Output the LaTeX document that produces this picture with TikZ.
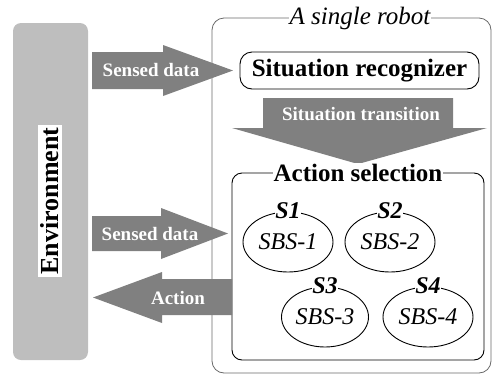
\documentclass[tikz,border=0pt]{standalone}
\usepackage{fontspec}
\setmainfont{Liberation Serif}
\usepackage{tikz}
\usetikzlibrary{arrows.meta, positioning, calc, shapes.geometric}
\definecolor{blockgray}{RGB}{128,128,128}
\definecolor{envgray}{RGB}{190,190,190}
\definecolor{framegray}{RGB}{105,105,105}

\begin{document}
\begin{tikzpicture}[x=1pt, y=-1pt,
    big/.style={font=\fontsize{25}{28}\selectfont\bfseries},
    blockarrow/.style={fill=blockgray},
    arrowtext/.style={font=\fontsize{19}{22}\selectfont\bfseries, text=white, inner sep=0pt},
    titled/.style={fill=white, inner sep=1pt},
    sbs/.style={ellipse, draw, line width=0.9pt, minimum width=90pt, minimum height=60pt,
                inner sep=0pt, font=\fontsize{24}{28}\selectfont\itshape},
    slabel/.style={fill=white, inner sep=0.5pt, font=\fontsize{24}{28}\selectfont\bfseries\itshape}]
  \useasboundingbox (0,0) rectangle (493,373);

  % environment column
  \fill[envgray, rounded corners=8pt] (13,23) rectangle (88,360);
  \node[big, fill=white, inner sep=3pt, rotate=90, font=\fontsize{26}{28}\selectfont\bfseries]
    (env) at (50,201) {Environment};

  % the robot frame
  \draw[framegray, line width=0.8pt, rounded corners=12pt] (212,18) rectangle (491,373);
  \node[titled, font=\fontsize{25}{28}\selectfont\itshape] (robot) at (360,18) {A single robot};

  % situation recognizer
  \node[big, draw, line width=0.9pt, rounded corners=12pt, minimum width=239pt,
        minimum height=37pt, inner sep=0pt] (recog) at (359.5,70.5) {Situation recognizer};

  % situation transition
  \fill[blockarrow] (263,98) -- (453,98) -- (453,128) -- (487,128) -- (358,164)
    -- (232,128) -- (263,128) -- cycle;
  \node[arrowtext] (trans) at (361,114) {Situation transition};

  % action selection
  \draw[line width=0.9pt, rounded corners=10pt] (232,173) rectangle (484,360);
  \node[big, titled] (select) at (358,173) {Action selection};

  % the four behaviour sets
  \node[sbs] (s1) at (288,242) {SBS-1};
  \node[sbs] (s2) at (390,242) {SBS-2};
  \node[sbs, minimum width=87pt] (s3) at (325,317) {SBS-3};
  \node[sbs] (s4) at (428,317) {SBS-4};
  \foreach \s in {1,...,4}
    \node[slabel] (s\s lbl) at ($(s\s.north)+(0,-1)$) {S\s};

  % sensor and motor flows
  \fill[blockarrow] (92,52) -- (163,52) -- (163,45) -- (233,70.5) -- (163,96)
    -- (163,89) -- (92,89) -- cycle;
  \node[arrowtext] (sense1) at (151,70) {Sensed data};
  \fill[blockarrow] (92,216) -- (161,216) -- (161,208) -- (228,233.5) -- (161,259)
    -- (161,251) -- (92,251) -- cycle;
  \node[arrowtext] (sense2) at (150,234) {Sensed data};
  \fill[blockarrow] (232,279) -- (162,279) -- (162,272) -- (93,297.5) -- (162,323)
    -- (162,315) -- (232,315) -- cycle;
  \node[arrowtext] (act) at (178,298) {Action};
\end{tikzpicture}
\end{document}
